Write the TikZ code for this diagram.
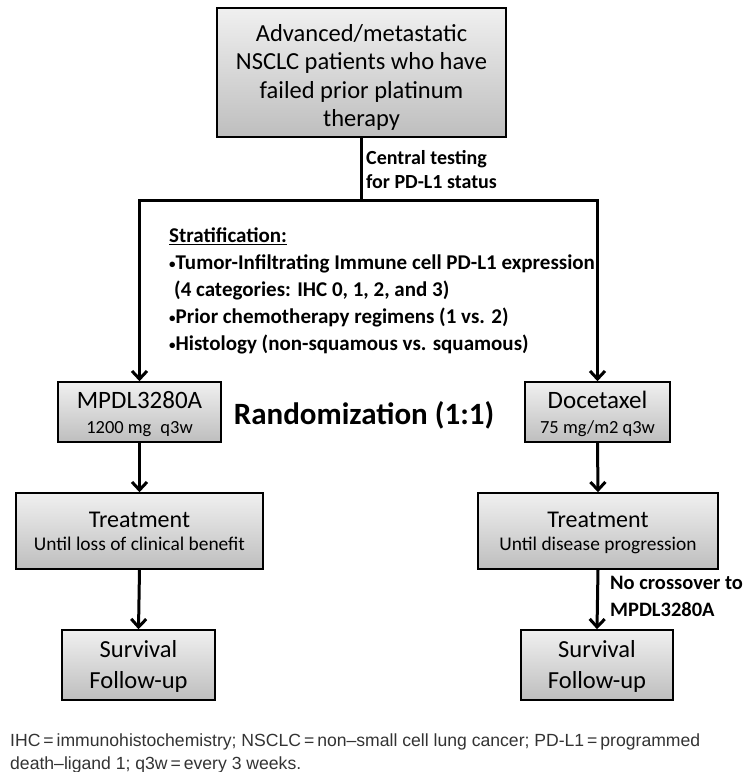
\documentclass[tikz,border=0pt]{standalone}
\usepackage{fontspec}
\setmainfont{Carlito}
\newfontfamily\footfont{Liberation Sans}
\usetikzlibrary{arrows.meta,shadows}
\definecolor{boxtop}{RGB}{240,240,240}
\definecolor{boxbot}{RGB}{190,190,190}
\definecolor{foottext}{RGB}{51,51,51}
\newcommand{\hstr}[1]{\rule{0pt}{#1}}
\newcommand{\dstr}[1]{\rule[-#1]{0pt}{#1}}
\newcommand{\smbul}{\raisebox{1pt}{\fontsize{13}{13}\selectfont •}}
\begin{document}
\begin{tikzpicture}[x=1pt,y=-1pt,
  gbox/.style={draw=black,line width=1.6pt,top color=boxtop,bottom color=boxbot,
    inner sep=0pt,align=center,
    drop shadow={shadow xshift=1.3pt,shadow yshift=-1.3pt,fill=black!75,opacity=1}},
  conn/.style={line width=3pt},
  arr/.style={conn,-{Straight Barb[length=8pt,width=15pt]}},
  btxt/.style={font=\fontsize{21}{27}\selectfont\bfseries,inner sep=0pt,align=left,anchor=north west}]
\useasboundingbox[fill=white] (0,0) rectangle (743,772);

% boxes
\node[gbox,minimum width=289pt,minimum height=129pt,font=\fontsize{24.5}{28.3}\selectfont]
  (top) at (361.5,72.5) {\hstr{29pt}Advanced/metastatic\\NSCLC patients who have\\failed prior platinum\\therapy\dstr{6pt}};
\node[gbox,minimum width=163pt,minimum height=60pt,font=\fontsize{25}{25}\selectfont]
  (mpdl) at (139.5,412) {\hstr{22pt}MPDL3280A\\{\fontsize{18.5}{22}\selectfont 1200 mg\hspace{9pt}q3w}\dstr{5pt}};
\node[gbox,minimum width=145pt,minimum height=60pt,font=\fontsize{25}{25}\selectfont]
  (doc) at (597.5,412) {\hstr{22pt}Docetaxel\\{\fontsize{18.5}{22}\selectfont 75 mg/m2 q3w}\dstr{5pt}};
\node[gbox,minimum width=247pt,minimum height=76pt,font=\fontsize{24}{23}\selectfont]
  (treatL) at (139.5,531) {\hstr{22pt}Treatment\\{\fontsize{19.4}{23}\selectfont Until loss of clinical benefit}\dstr{7pt}};
\node[gbox,minimum width=240pt,minimum height=76pt,font=\fontsize{24}{23}\selectfont]
  (treatR) at (598,531) {\hstr{22pt}Treatment\\{\fontsize{19.4}{23}\selectfont Until disease progression}\dstr{7pt}};
\node[gbox,minimum width=153pt,minimum height=70pt,font=\fontsize{24.5}{31}\selectfont]
  (survL) at (138.5,665) {\hstr{21pt}Survival\\Follow-up\dstr{6pt}};
\node[gbox,minimum width=152pt,minimum height=70pt,font=\fontsize{24.5}{31}\selectfont]
  (survR) at (597,665) {\hstr{21pt}Survival\\Follow-up\dstr{6pt}};

% texts
\node[btxt,font=\fontsize{20}{24.5}\selectfont\bfseries] (central) at (366,150) {Central testing\\for PD-L1 status};
\node[btxt] (strat) at (169,228) {\underline{Stratification:}\\
  \smbul Tumor-Infiltrating Immune cell PD-L1 expression\\
  \hspace*{5pt}(4 categories: IHC 0, 1, 2, and 3)\\
  \smbul Prior chemotherapy regimens (1 vs. 2)\\
  \smbul Histology (non-squamous vs. squamous)};
\node[font=\fontsize{31}{36}\selectfont\bfseries,inner sep=0pt] (rand) at (364,415) {Randomization (1:1)};
\node[btxt,font=\fontsize{20.5}{27}\selectfont\bfseries] (nocross) at (610,576) {No crossover to\\MPDL3280A};
\node[font=\footfont\fontsize{17.6}{23}\selectfont,text=foottext,anchor=north west,inner sep=0pt,align=left]
  (foot) at (10,733.5) {IHC\,=\,immunohistochemistry; NSCLC\,=\,non–small cell lung cancer; PD-L1\,=\,programmed\\death–ligand 1; q3w\,=\,every 3 weeks.};

% connectors
\coordinate (split) at (361.5,200);
\draw[conn] (top.south) -- (split);
\draw[arr] (split) -| (mpdl.north);
\draw[arr] (split) -| (doc.north);
\draw[arr] (mpdl.south) -- (treatL.north);
\draw[arr] (doc.south) -- (treatR.north);
\draw[arr] (treatL.south) -- (survL.north);
\draw[arr] (treatR.south) -- (survR.north);
\end{tikzpicture}
\end{document}
